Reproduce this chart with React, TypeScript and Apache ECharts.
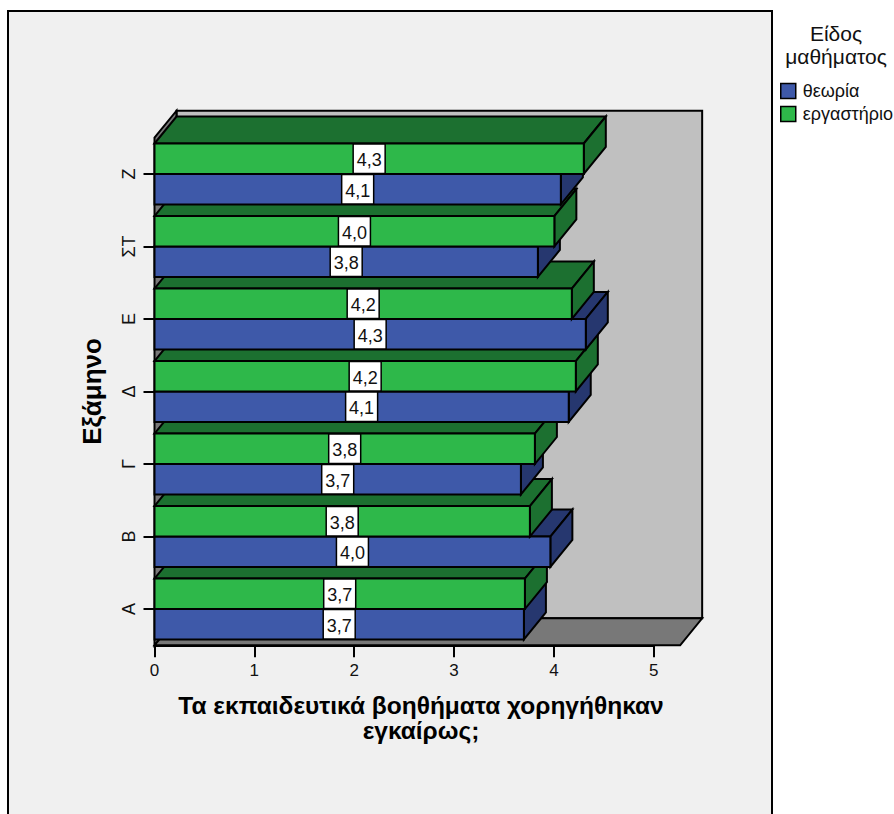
import React, { useEffect, useRef } from "react";
import * as echarts from "echarts";

const semesters = ["Α", "Β", "Γ", "Δ", "Ε", "ΣΤ", "Ζ"];
const theoryValues = [3.7, 3.965, 3.67, 4.149, 4.32, 3.84, 4.07];
const labValues = [3.71, 3.76, 3.81, 4.22, 4.18, 4.005, 4.3];
const seriesNames = ["θεωρία", "εργαστήριο"];
const FONT = '"Liberation Sans", Arial, sans-serif';
const C = {
  panel: "#f0f0f0",
  wall: "#c0c0c0",
  floor: "#787878",
  blue: "#3e59a9",
  blueDark: "#26376f",
  green: "#2eb84a",
  greenDark: "#1c7030",
};
const DX = 22;
const DY = -27;
const LW = 2;

function barRenderer(kind: number) {
  return (_params: any, api: any) => {
    const value = api.value(0);
    const cat = api.value(1);
    const start = api.coord([0, cat]);
    const end = api.coord([value, cat]);
    const h = api.size([0, 1])[1] * 0.42;
    const yTop = kind === 1 ? start[1] - h : start[1];
    const yBot = yTop + h;
    const x0 = start[0];
    const x1 = end[0];
    const z = (cat * 2 + kind + 1) * 10;
    const front = kind === 1 ? C.green : C.blue;
    const dark = kind === 1 ? C.greenDark : C.blueDark;
    const stroke = { stroke: "#000", lineWidth: LW, lineJoin: "miter" };
    const cx = (x0 + x1) / 2;
    const text = value.toFixed(1).replace(".", ",");
    return {
      type: "group",
      children: [
        {
          type: "polygon",
          z2: z,
          shape: { points: [[x0, yTop], [x0 + DX, yTop + DY], [x1 + DX, yTop + DY], [x1, yTop]] },
          style: { fill: dark, ...stroke },
        },
        {
          type: "polygon",
          z2: z + 1,
          shape: { points: [[x1, yTop], [x1 + DX, yTop + DY], [x1 + DX, yBot + DY], [x1, yBot]] },
          style: { fill: dark, ...stroke },
        },
        {
          type: "rect",
          z2: z + 2,
          shape: { x: x0, y: yTop, width: x1 - x0, height: h },
          style: { fill: front, ...stroke },
        },
        {
          type: "rect",
          z2: 1000,
          shape: { x: cx - 16, y: yTop + 0.5, width: 32, height: h - 1 },
          style: { fill: "#fff", stroke: "#000", lineWidth: 1.5 },
        },
        {
          type: "text",
          z2: 1001,
          style: {
            text,
            x: cx,
            y: yTop + h / 2 + 1.5,
            fill: "#111",
            font: `18px ${FONT}`,
            align: "center",
            verticalAlign: "middle",
            textAlign: "center",
            textVerticalAlign: "middle",
          },
        },
      ],
    };
  };
}

function frameRenderer(params: any, api: any) {
  const g = params.coordSys;
  const left = g.x;
  const top = g.y;
  const bottom = g.y + g.height;
  const right = api.coord([5.265, 0])[0];
  const stroke = { stroke: "#000", lineWidth: LW };
  return {
    type: "group",
    children: [
      {
        type: "polygon",
        z2: 1,
        shape: { points: [[left + DX, top + DY], [right + DX, top + DY], [right + DX, bottom + DY], [left + DX, bottom + DY]] },
        style: { fill: C.wall, ...stroke },
      },
      {
        type: "polygon",
        z2: 2,
        shape: { points: [[left, top], [left + DX, top + DY], [left + DX, bottom + DY], [left, bottom]] },
        style: { fill: C.floor, ...stroke },
      },
      {
        type: "polygon",
        z2: 3,
        shape: { points: [[left, bottom], [left + DX, bottom + DY], [right + DX, bottom + DY], [right, bottom]] },
        style: { fill: C.floor, ...stroke },
      },
    ],
  };
}

export default function App() {
  const ref = useRef<HTMLDivElement>(null);
  useEffect(() => {
    const chart = echarts.init(ref.current!, null, { renderer: "svg" });
    chart.setOption({
      animation: false,
      backgroundColor: "#ffffff",
      textStyle: { fontFamily: FONT },
      grid: { left: 154.5, top: 137.7, width: 499.2, height: 507.6, containLabel: false },
      xAxis: {
        type: "value",
        min: 0,
        max: 5,
        interval: 1,
        splitLine: { show: false },
        axisLine: { show: true, onZero: false, lineStyle: { color: "#000", width: 2 } },
        axisTick: { show: true, length: 12, lineStyle: { color: "#000", width: 2 } },
        axisLabel: { color: "#111", fontSize: 17, margin: 17, fontFamily: FONT },
      },
      yAxis: {
        type: "category",
        data: semesters,
        name: "Εξάμηνο",
        nameLocation: "middle",
        nameGap: 50,
        nameRotate: 90,
        nameTextStyle: { color: "#000", fontSize: 26, fontWeight: "bold", fontFamily: FONT },
        axisLine: { show: true, onZero: false, lineStyle: { color: "#000", width: 2 } },
        axisTick: { show: true, alignWithLabel: true, length: 11, lineStyle: { color: "#000", width: 2 } },
        axisLabel: { color: "#111", fontSize: 18, rotate: 90, margin: 17, fontFamily: FONT },
      },
      legend: {
        orient: "vertical",
        left: 775,
        top: 77,
        icon: "rect",
        itemWidth: 15,
        itemHeight: 15,
        itemGap: 5,
        data: seriesNames,
        selectedMode: false,
        textStyle: { color: "#111", fontSize: 18, fontFamily: FONT, padding: [0, 0, 0, 2] },
        itemStyle: { borderColor: "#000", borderWidth: 1.5 },
      },
      graphic: [
        {
          type: "rect",
          z: -10,
          silent: true,
          shape: { x: 8, y: 11, width: 764, height: 830 },
          style: { fill: C.panel, stroke: "#000", lineWidth: 2 },
        },
        {
          type: "text",
          z: 50,
          x: 421,
          y: 693,
          silent: true,
          style: {
            text: "Τα εκπαιδευτικά βοηθήματα χορηγήθηκαν\nεγκαίρως;",
            font: `bold 24.5px ${FONT}`,
            fill: "#000",
            align: "center",
            verticalAlign: "top",
            lineHeight: 25,
          },
        },
        {
          type: "text",
          z: 50,
          silent: true,
          x: 836,
          y: 22,
          style: {
            text: "Είδος\nμαθήματος",
            font: `21px ${FONT}`,
            fill: "#111",
            align: "center",
            verticalAlign: "top",
            lineHeight: 23,
          },
        },
      ],
      series: [
        {
          type: "custom",
          name: "frame",
          silent: true,
          coordinateSystem: "cartesian2d",
          data: [[0, 0]],
          encode: { x: 0, y: 1 },
          renderItem: frameRenderer,
        },
        {
          type: "custom",
          name: seriesNames[0],
          coordinateSystem: "cartesian2d",
          itemStyle: { color: C.blue },
          data: theoryValues.map((v, i) => [v, i]),
          encode: { x: 0, y: 1 },
          renderItem: barRenderer(0),
        },
        {
          type: "custom",
          name: seriesNames[1],
          coordinateSystem: "cartesian2d",
          itemStyle: { color: C.green },
          data: labValues.map((v, i) => [v, i]),
          encode: { x: 0, y: 1 },
          renderItem: barRenderer(1),
        },
      ],
    });
    return () => chart.dispose();
  }, []);
  return <div ref={ref} style={{ position: "fixed", left: 0, top: 0, width: 894, height: 814 }} />;
}
